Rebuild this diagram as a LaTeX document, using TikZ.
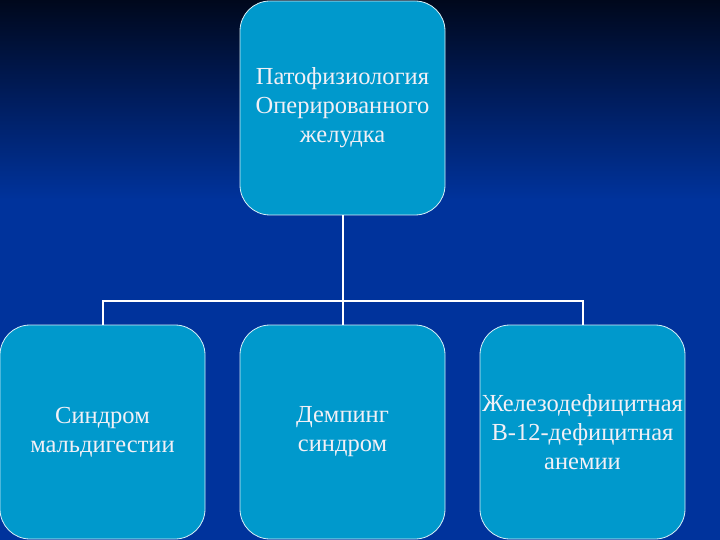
\documentclass[tikz,border=0pt]{standalone}
\usepackage{fontspec}
\setmainfont{Liberation Serif}
\usetikzlibrary{positioning}
\definecolor{fondoalto}{HTML}{00081C}
\definecolor{fondomedio}{HTML}{001D5E}
\definecolor{fondobasso}{HTML}{00339C}
\definecolor{riempimento}{HTML}{0099CC}
\definecolor{testochiaro}{HTML}{F2F0F6}
\begin{document}
\begin{tikzpicture}[
    x=1pt,y=-1pt,
    riquadro/.style={draw=white!85!riempimento,line width=0.8pt,fill=riempimento,
      rounded corners=30pt,minimum width=205pt,minimum height=214pt,inner sep=0pt,
      align=center,text=testochiaro,font=\fontsize{24.5}{29}\selectfont},
    collegamento/.style={draw=white,line width=2pt}]

  % ---- sfondo -------------------------------------------------------------
  \shade[top color=fondoalto,bottom color=fondobasso,middle color=fondomedio]
    (0,0) rectangle (720,200);
  \fill[fondobasso] (0,199.5) rectangle (720,540);
  \useasboundingbox (0,0) rectangle (720,540);

  % ---- riquadri -----------------------------------------------------------
  \node[riquadro] (radice) at (342.5,108) {Патофизиология\\Оперированного\\желудка};
  \node[riquadro] (sinistro) at (102.5,432) {Синдром\\мальдигестии};
  \node[riquadro] (centrale) at (342.5,432) {Демпинг\\синдром};
  \node[riquadro] (destro) at (582.5,432) {Железодефицитная\\В-12-дефицитная\\анемии};

  % ---- collegamenti -------------------------------------------------------
  \coordinate (bivio) at (342.5,301);
  \draw[collegamento] (radice.south) -- (bivio);
  \draw[collegamento] (bivio) -| (sinistro.north);
  \draw[collegamento] (bivio) -- (centrale.north);
  \draw[collegamento] (bivio) -| (destro.north);

\end{tikzpicture}
\end{document}
